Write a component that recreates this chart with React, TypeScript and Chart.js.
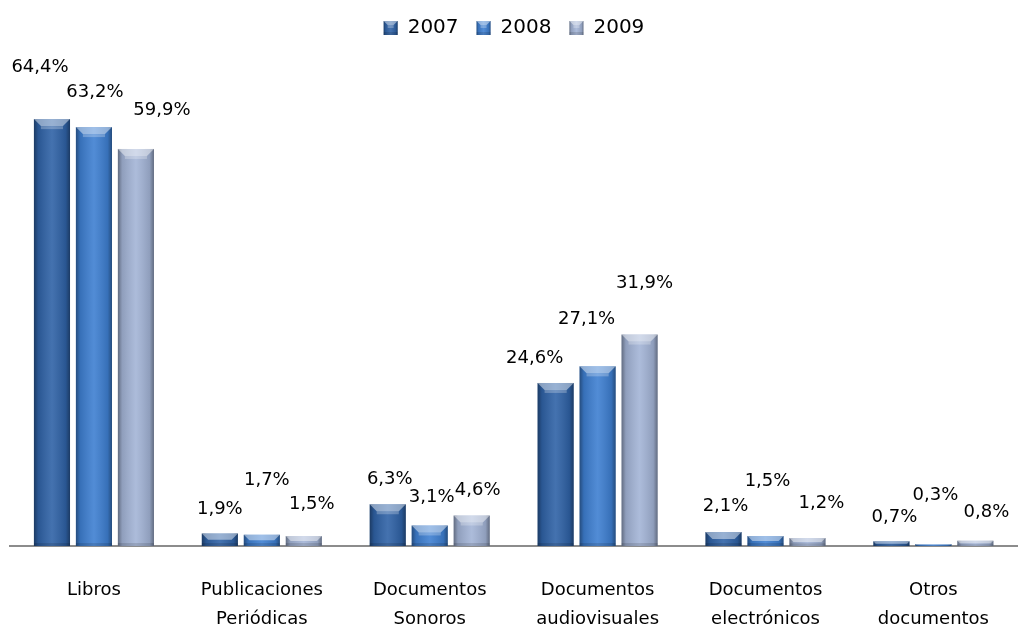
import React, { useEffect, useRef } from "react";
import { Chart, registerables } from "chart.js";

Chart.register(...registerables);

const categories: string[][] = [
  ["Libros"],
  ["Publicaciones", "Periódicas"],
  ["Documentos", "Sonoros"],
  ["Documentos", "audiovisuales"],
  ["Documentos", "electrónicos"],
  ["Otros", "documentos"],
];
const seriesNames = ["2007", "2008", "2009"];
const values2007 = [64.4, 1.9, 6.3, 24.6, 2.1, 0.7];
const values2008 = [63.2, 1.7, 3.1, 27.1, 1.5, 0.3];
const values2009 = [59.9, 1.5, 4.6, 31.9, 1.2, 0.8];

// label nudges relative to each bar (style only): [dx, dy above bar top]
const labelNudge: number[][][] = [
  [[-12, 52], [0, 24], [2, 25], [-21, 25], [2, 26], [3, 24]],
  [[1, 35], [5, 54], [2, 28], [-11, 47], [2, 55], [2, 49]],
  [[26, 39], [8, 32], [6, 25], [5, 51], [14, 35], [11, 28]],
];

const colors = ["#2F62A6", "#3E7FD1", "#A3B4D6"];
const FONT = "'DejaVu Sans', sans-serif";

function bevelRect(ctx: any, left: number, top: number, w: number, h: number, maxB: number) {
  const right = left + w;
  const bottom = top + h;
  ctx.save();
  const g = ctx.createLinearGradient(left, 0, right, 0);
  g.addColorStop(0, "rgba(0,0,0,0.40)");
  g.addColorStop(0.12, "rgba(0,0,0,0.12)");
  g.addColorStop(0.5, "rgba(255,255,255,0.10)");
  g.addColorStop(0.88, "rgba(0,0,0,0.12)");
  g.addColorStop(1, "rgba(0,0,0,0.40)");
  ctx.fillStyle = g;
  ctx.fillRect(left, top, w, h);
  const b = Math.min(maxB, h / 2);
  ctx.beginPath();
  ctx.moveTo(left, top);
  ctx.lineTo(right, top);
  ctx.lineTo(right - b, top + b);
  ctx.lineTo(left + b, top + b);
  ctx.closePath();
  ctx.fillStyle = "rgba(255,255,255,0.45)";
  ctx.fill();
  if (h > 2 * b + 3) {
    ctx.fillStyle = "rgba(255,255,255,0.25)";
    ctx.fillRect(left + b, top + b, w - 2 * b, 3);
  }
  const bb = Math.min(3, h / 3);
  ctx.fillStyle = "rgba(0,0,0,0.12)";
  ctx.fillRect(left, bottom - bb, w, bb);
  ctx.restore();
}

const bevelPlugin = {
  id: "bevel",
  afterDatasetsDraw(chart: any) {
    const ctx = chart.ctx;
    chart.data.datasets.forEach((ds: any, di: number) => {
      const meta = chart.getDatasetMeta(di);
      meta.data.forEach((bar: any) => {
        const w = bar.width;
        const top = Math.min(bar.y, bar.base);
        const h = Math.abs(bar.base - bar.y);
        if (h <= 0) return;
        bevelRect(ctx, bar.x - w / 2, top, w, h, 7);
      });
    });
  },
  afterDraw(chart: any) {
    const lg = chart.legend;
    if (!lg || !lg.legendHitBoxes) return;
    lg.legendHitBoxes.forEach((hb: any) => {
      const bh = 14;
      const top = hb.top + (hb.height - bh) / 2;
      bevelRect(chart.ctx, hb.left, top, 14, bh, 4);
    });
  },
};

const labelPlugin = {
  id: "valueLabels",
  afterDatasetsDraw(chart: any) {
    const ctx = chart.ctx;
    ctx.save();
    ctx.font = `18px ${FONT}`;
    ctx.fillStyle = "#000";
    ctx.textAlign = "center";
    ctx.textBaseline = "middle";
    chart.data.datasets.forEach((ds: any, di: number) => {
      const meta = chart.getDatasetMeta(di);
      meta.data.forEach((bar: any, i: number) => {
        const v = ds.data[i] as number;
        const [dx, dy] = labelNudge[di][i];
        const txt = v.toFixed(1).replace(".", ",") + "%";
        ctx.fillText(txt, bar.x + dx, bar.y - dy);
      });
    });
    ctx.restore();
  },
};

const legendSpacer = {
  id: "legendSpacer",
  beforeInit(chart: any) {
    const orig = chart.legend.fit;
    chart.legend.fit = function () {
      orig.call(this);
      this.height = 82;
    };
  },
};

export default function App() {
  const ref = useRef<HTMLCanvasElement>(null);
  useEffect(() => {
    if (!ref.current) return;
    const chart = new Chart(ref.current, {
      type: "bar",
      data: {
        labels: categories,
        datasets: [values2007, values2008, values2009].map((d, i) => ({
          label: seriesNames[i],
          data: d,
          backgroundColor: colors[i],
          borderWidth: 0,
          categoryPercentage: 0.75,
          barPercentage: 0.86,
        })),
      },
      options: {
        responsive: false,
        animation: false,
        layout: { padding: { left: 10, right: 0, top: 0, bottom: 0 } },
        plugins: {
          legend: {
            position: "top",
            labels: {
              boxWidth: 14,
              boxHeight: 14,
              padding: 18,
              color: "#000",
              font: { family: FONT, size: 20 },
            },
          },
          tooltip: { enabled: false },
        },
        scales: {
          x: {
            grid: { display: false, drawTicks: false },
            border: { display: true, color: "#8c8c8c", width: 2 },
            ticks: {
              color: "#000",
              padding: 29,
              maxRotation: 0,
              autoSkip: false,
              font: { family: FONT, size: 18, lineHeight: 1.65 },
            },
            afterFit(scale: any) {
              scale.height = 87;
            },
          },
          y: { display: false, min: 0, max: 70 },
        },
      },
      plugins: [legendSpacer, bevelPlugin, labelPlugin],
    });
    return () => chart.destroy();
  }, []);
  return (
    <div style={{ position: "fixed", left: 0, top: 0, width: 1018, height: 633, background: "#fff" }}>
      <canvas ref={ref} width={1018} height={633} />
    </div>
  );
}
